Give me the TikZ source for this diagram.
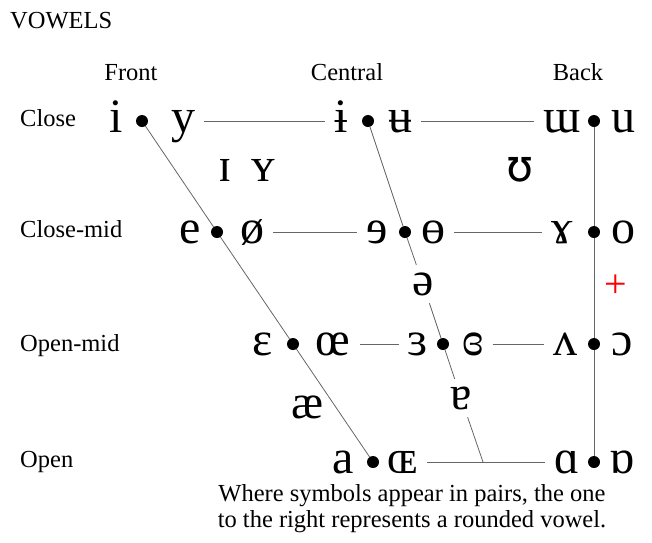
\documentclass[tikz,border=0pt]{standalone}
\usepackage{fontspec}
\setmainfont{Liberation Serif}
\newfontfamily\plainipa{DejaVu Sans}

\begin{document}
\begin{tikzpicture}[x = 1pt, y = -1pt]
	\tikzstyle{LabelStyle} = [font = \fontsize{24.5}{26}\selectfont, inner sep = 0pt]
	\tikzstyle{VowelStyle} = [font = \fontsize{48}{56}\selectfont, text height = 22pt, text depth = 0pt, inner xsep = 9pt, inner ysep = 4pt]
	\tikzstyle{MidVowelStyle} = [VowelStyle, inner ysep = 8pt]
	\tikzstyle{DotStyle} = [shape = circle, minimum size = 12pt, inner sep = 0pt, fill]
	\tikzstyle{LineStyle} = [line width = 0.8pt, black!60]
	\useasboundingbox (0, 0) rectangle (652, 542);
	% headings
	\node[LabelStyle, anchor = base west] (title) at (10, 28) {VOWELS};
	\node[LabelStyle, anchor = base] (front) at (131, 80) {Front};
	\node[LabelStyle, anchor = base] (central) at (347, 80) {Central};
	\node[LabelStyle, anchor = base] (back) at (578, 80) {Back};
	\node[LabelStyle, anchor = base west] (close) at (20, 126) {Close};
	\node[LabelStyle, anchor = base west] (closemid) at (20, 237) {Close-mid};
	\node[LabelStyle, anchor = base west] (openmid) at (20, 351) {Open-mid};
	\node[LabelStyle, anchor = base west] (open) at (20, 467) {Open};
	% dots
	\node[DotStyle] (dFC) at (142, 121) {};
	\node[DotStyle] (dCC) at (368, 121) {};
	\node[DotStyle] (dBC) at (594, 121) {};
	\node[DotStyle] (dFCM) at (217, 232) {};
	\node[DotStyle] (dCCM) at (405, 232) {};
	\node[DotStyle] (dBCM) at (594, 232) {};
	\node[DotStyle] (dFOM) at (293, 344) {};
	\node[DotStyle] (dCOM) at (443, 344) {};
	\node[DotStyle] (dBOM) at (594, 344) {};
	\node[DotStyle] (dFO) at (373, 462) {};
	\node[DotStyle] (dBO) at (594, 462) {};
	\coordinate (cO) at (483, 462);
	% vowels
	\node[VowelStyle] (i) at (116, 121) {i};
	\node[VowelStyle] (y) at (183, 121) {y};
	\node[VowelStyle] (ibar) at (341, 121) {ɨ};
	\node[VowelStyle] (ubar) at (400, 121) {ʉ};
	\node[VowelStyle] (turnedm) at (562, 121) {ɯ};
	\node[VowelStyle] (u) at (623, 121) {u};
	\node[VowelStyle] (smallcapi) at (225, 170) {ɪ};
	\node[VowelStyle] (smallcapy) at (263, 170) {ʏ};
	\node[VowelStyle, font = \fontsize{44}{52}\plainipa] (upsilon) at (520, 170) {ʊ};
	\node[VowelStyle] (e) at (190, 232) {e};
	\node[VowelStyle] (oslash) at (252, 232) {ø};
	\node[VowelStyle] (reve) at (377, 232) {ɘ};
	\node[VowelStyle] (baro) at (433, 232) {ɵ};
	\node[VowelStyle] (ramshorn) at (562, 232) {ɤ};
	\node[VowelStyle] (o) at (623, 232) {o};
	\node[MidVowelStyle] (schwa) at (423, 284) {ə};
	\node[VowelStyle] (epsilon) at (263, 344) {ɛ};
	\node[VowelStyle] (oe) at (333, 344) {œ};
	\node[VowelStyle] (revepsilon) at (418, 344) {ɜ};
	\node[VowelStyle] (closedrevepsilon) at (473, 344) {ɞ};
	\node[VowelStyle] (turnedv) at (565, 344) {ʌ};
	\node[VowelStyle] (openo) at (622, 344) {ɔ};
	\node[VowelStyle] (ash) at (308, 407) {æ};
	\node[MidVowelStyle] (turneda) at (461, 398) {ɐ};
	\node[VowelStyle] (a) at (343, 462) {a};
	\node[VowelStyle] (smallcapoe) at (403, 462) {ɶ};
	\node[VowelStyle] (alpha) at (567, 462) {ɑ};
	\node[VowelStyle] (turnedalpha) at (622, 462) {ɒ};
	\node[font = \fontsize{40}{44}\selectfont, text = red, inner sep = 0pt] (plus) at (616, 286) {+};
	% lines
	\draw[LineStyle] (y) -- (ibar);
	\draw[LineStyle] (ubar) -- (turnedm);
	\draw[LineStyle] (oslash) -- (reve);
	\draw[LineStyle] (baro) -- (ramshorn);
	\draw[LineStyle] (oe) -- (revepsilon);
	\draw[LineStyle] (closedrevepsilon) -- (turnedv);
	\draw[LineStyle] (smallcapoe) -- (alpha);
	\draw[LineStyle] (dFC) -- (dFCM) -- (dFOM) -- (dFO);
	\draw[LineStyle] (dCC) -- (dCCM) -- (schwa) -- (dCOM) -- (turneda) -- (cO);
	\draw[LineStyle] (dBC) -- (dBCM) -- (dBOM) -- (dBO);
	% note
	\node[LabelStyle, align = center] (note) at (412, 509) {Where symbols appear in pairs, the one\\to the right represents a rounded vowel.};
\end{tikzpicture}
\end{document}
